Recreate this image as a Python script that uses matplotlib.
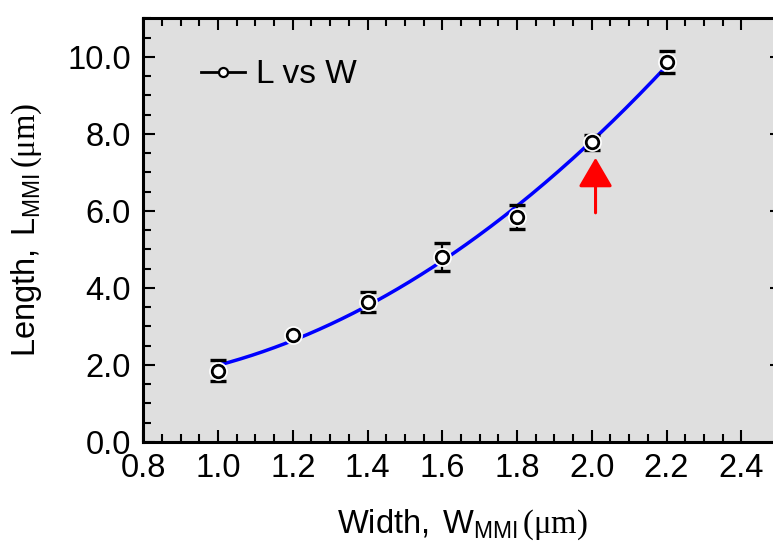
import numpy as np
import matplotlib
matplotlib.use("Agg")
import matplotlib.pyplot as plt
from matplotlib.ticker import FixedLocator, MultipleLocator, FormatStrFormatter

# ---- data ----
width_um = [1.0, 1.2, 1.4, 1.6, 1.8, 2.0, 2.2]
length_um = [1.85, 2.79, 3.63, 4.81, 5.84, 7.78, 9.87]
length_err = [0.27, 0.05, 0.26, 0.36, 0.32, 0.20, 0.28]
x_ticks = [0.8, 1.0, 1.2, 1.4, 1.6, 1.8, 2.0, 2.2, 2.4]
y_ticks = [0.0, 2.0, 4.0, 6.0, 8.0, 10.0]
arrow_x = 2.01
arrow_from = 5.95
arrow_to = 7.38
legend_label = "L vs W"

plt.rcParams['font.family'] = ['Liberation Sans', 'DejaVu Sans']
plt.rcParams['mathtext.fontset'] = 'custom'
plt.rcParams['mathtext.rm'] = 'Liberation Serif'
plt.rcParams['mathtext.sf'] = 'Liberation Sans'
plt.rcParams['mathtext.it'] = 'Liberation Serif:italic'

fig = plt.figure(figsize=(7.73, 5.44), dpi=100)
W, H = 773, 544
left, right, top, bottom = 143.3, 782, 18.3, 442
ax = fig.add_axes([left / W, (H - bottom) / H, (right - left) / W, (bottom - top) / H])
ax.set_facecolor('#dfdfdf')

# quadratic fit curve of the data
coef = np.polyfit(width_um, length_um, 2)
xf = np.linspace(min(width_um), max(width_um), 200)
ax.plot(xf, np.polyval(coef, xf), color='#0000ff', lw=2.5, zorder=2)

# error bars
ax.errorbar(width_um, length_um, yerr=length_err, fmt='none', ecolor='black',
            elinewidth=1.6, capsize=6, capthick=2.4, zorder=3)
# white halo and markers
ax.plot(width_um, length_um, 'o', ms=12.5, mfc='white', mec='white', zorder=4)
ax.plot(width_um, length_um, 'o', ms=9, mfc='white', mec='black', mew=2.0, zorder=5)

# legend handle
ax.plot([], [], '-o', color='black', lw=2, ms=6.5, mfc='white', mec='black',
        mew=1.6, label=legend_label)
leg = ax.legend(loc='upper left', bbox_to_anchor=(0.07, 0.935), frameon=False,
                fontsize=24, handlelength=1.3, handletextpad=0.35, borderaxespad=0)

# red arrow
ax.annotate('', xy=(arrow_x, arrow_to), xytext=(arrow_x, arrow_from),
            arrowprops=dict(arrowstyle='-|>,head_length=1.8,head_width=1.05',
                            mutation_scale=10,
                            color='#ff0000', lw=2.2, shrinkA=0, shrinkB=0),
            zorder=6)

ax.set_xlim(0.8, 0.8 + (right - left) / 373.75)
ax.set_ylim(0, 11.0)
ax.xaxis.set_major_locator(FixedLocator(x_ticks))
ax.xaxis.set_minor_locator(FixedLocator(np.arange(0.85, 2.4, 0.05)))
ax.yaxis.set_major_locator(FixedLocator(y_ticks))
ax.yaxis.set_minor_locator(MultipleLocator(0.5))
ax.xaxis.set_major_formatter(FormatStrFormatter('%.1f'))
ax.yaxis.set_major_formatter(FormatStrFormatter('%.1f'))

ax.tick_params(which='both', direction='in', top=True, right=True, width=1.5,
               labelsize=23.5, colors='black')
ax.tick_params(which='major', length=8.5)
ax.tick_params(which='minor', length=5.5)
ax.tick_params(axis='x', pad=8)
ax.tick_params(axis='y', pad=9)
for s in ax.spines.values():
    s.set_linewidth(2.2)

ax.set_xlabel(r'$\mathsf{Width,\ W_{MMI}}\,\mathrm{(\mu m)}$', fontsize=23.5, labelpad=17)
ax.set_ylabel(r'$\mathsf{Length,\ L_{MMI}}\,\mathrm{(\mu m)}$', fontsize=23.5, labelpad=17)

fig.savefig('out.png', dpi=100, facecolor='white')
